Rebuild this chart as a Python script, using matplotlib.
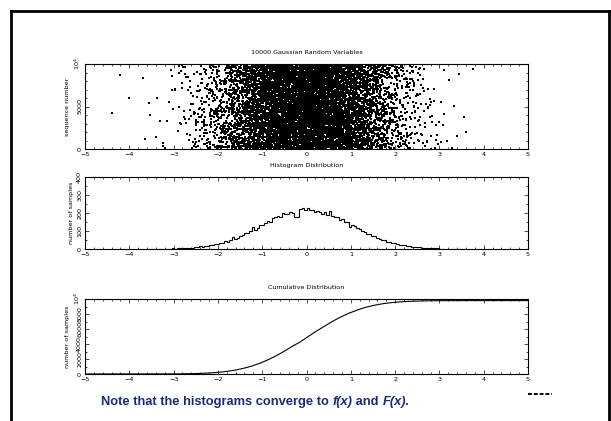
import matplotlib
matplotlib.use('Agg')
import matplotlib.pyplot as plt
from matplotlib.lines import Line2D
from matplotlib.ticker import MultipleLocator, FixedLocator
import numpy as np

# ---- data ----
# histogram: 128 bins from -3.6 to 3.6
hist_lo, hist_hi = -3.6, 3.6
hist_counts = [
    0, 1, 0, 1, 1, 0, 2, 1, 2, 1, 3, 2, 4, 3, 5, 6,
    5, 8, 7, 11, 10, 14, 13, 18, 17, 23, 21, 29, 28, 36, 33, 44,
    40, 52, 68, 56, 62, 75, 78, 88, 90, 98, 120, 104, 118, 136, 134, 142,
    156, 150, 172, 178, 184, 180, 200, 196, 194, 206, 198, 180, 176, 224, 230, 218,
    226, 214, 218, 206, 212, 204, 196, 208, 190, 210, 186, 178, 180, 160, 166, 150,
    148, 124, 136, 126, 116, 110, 98, 96, 84, 82, 72, 70, 60, 58, 50, 48,
    40, 39, 32, 31, 26, 25, 20, 20, 16, 15, 12, 12, 9, 9, 7, 6,
    5, 5, 4, 3, 3, 2, 2, 2, 1, 1, 1, 1, 0, 1, 0, 0,
]
# stray far-tail points visible in the scatter panel
tail_x = [-4.4, -4.2, -4.0, -3.7, -3.65, -3.55, -3.3, 3.75, 3.6, 3.55, 3.4]
tail_seq = [4200, 8700, 6000, 8400, 1200, 5400, 3300, 9400, 2000, 3800, 1500]

titles = ['10000 Gaussian Random Variables', 'Histogram Distribution', 'Cumulative Distribution']
xticks = [-5, -4, -3, -2, -1, 0, 1, 2, 3, 4, 5]
xticklabels = ['\u22125', '\u22124', '\u22123', '\u22122', '\u22121', '0', '1', '2', '3', '4', '5']
seq_ticks = [0, 5000, 10000]
seq_labels = ['0', '5000', '10$^4$']
hist_ticks = [0, 100, 200, 300, 400]
cum_ticks = [0, 2000, 4000, 6000, 8000, 10000]
cum_labels = ['0', '2000', '4000', '6000', '8000', '10$^4$']


def scramble(v):
    # integer hash -> [0, 1), used only to order samples inside the run
    v = np.asarray(v, dtype=np.uint64) & np.uint64(0xffffffff)
    m = np.uint64(0x45d9f3b)
    mask = np.uint64(0xffffffff)
    v = ((v ^ (v >> np.uint64(16))) * m) & mask
    v = ((v ^ (v >> np.uint64(16))) * m) & mask
    v = v ^ (v >> np.uint64(16))
    return v.astype(np.float64) / 2.0**32


# ---- derived series ----
counts = np.array(hist_counts)
edges = np.linspace(hist_lo, hist_hi, len(counts) + 1)
width = edges[1] - edges[0]
bin_of = np.repeat(np.arange(len(counts)), counts)
n = len(bin_of)
idx = np.arange(n)
xs = edges[bin_of] + scramble(idx * 3 + 1) * width
seq = scramble(idx * 3 + 2) * 10000
cum = np.concatenate([[0], np.cumsum(counts)])

# ---- figure ----
fig = plt.figure(figsize=(6.11, 4.21), dpi=100, facecolor='white')
plt.rcParams['font.family'] = ['DejaVu Sans']

L, W = 85 / 611, 443 / 611
boxes = [
    [L, 1 - 149 / 421, W, 85 / 421],
    [L, 1 - 249 / 421, W, 72 / 421],
    [L, 1 - 374 / 421, W, 75 / 421],
]
axs = [fig.add_axes(b) for b in boxes]

fs = 4.6
for ax, t in zip(axs, titles):
    ax.set_xlim(-5, 5)
    ax.set_title(t, fontsize=fs, pad=7)
    ax.set_xticks(xticks)
    ax.set_xticklabels(xticklabels, fontsize=fs)
    ax.xaxis.set_minor_locator(MultipleLocator(0.2))
    ax.tick_params(which='both', direction='in', top=True, right=True,
                   width=0.5, pad=2)
    ax.tick_params(which='major', length=3.2)
    ax.tick_params(which='minor', length=1.6)
    for s in ax.spines.values():
        s.set_linewidth(0.8)

# panel 1: scatter
ax = axs[0]
ax.scatter(xs, seq, s=0.9, marker='s', c='black', linewidths=0, antialiased=False)
ax.scatter(tail_x, tail_seq, s=0.9, marker='s', c='black', linewidths=0, antialiased=False)
ax.set_ylim(0, 10000)
ax.yaxis.set_major_locator(FixedLocator(seq_ticks))
ax.set_yticklabels(seq_labels, fontsize=fs, rotation=90, va='center')
ax.yaxis.set_minor_locator(MultipleLocator(1000))
ax.set_ylabel('sequence number', fontsize=fs, labelpad=2)

# panel 2: histogram
ax = axs[1]
ax.stairs(counts, edges, color='black', linewidth=0.8)
ax.set_ylim(0, 400)
ax.yaxis.set_major_locator(FixedLocator(hist_ticks))
ax.set_yticklabels([str(v) for v in hist_ticks], fontsize=fs, rotation=90, va='center')
ax.yaxis.set_minor_locator(MultipleLocator(50))
ax.set_ylabel('number of samples', fontsize=fs, labelpad=2)

# panel 3: cumulative
ax = axs[2]
ax.plot(np.concatenate([[-5], edges, [5]]), np.concatenate([[0], cum, [cum[-1]]]),
        color='black', linewidth=0.8)
ax.set_ylim(0, 10000)
ax.yaxis.set_major_locator(FixedLocator(cum_ticks))
ax.set_yticklabels(cum_labels, fontsize=fs, rotation=90, va='center')
ax.yaxis.set_minor_locator(MultipleLocator(1000))
ax.set_ylabel('number of samples', fontsize=fs, labelpad=2)

# slide frame
fw, fh = 611.0, 421.0
frame = dict(color='black', linewidth=2.0, transform=fig.transFigure, solid_capstyle='projecting')
fig.add_artist(Line2D([10.5 / fw, 10.5 / fw], [0, 1 - 11 / fh], **frame))
fig.add_artist(Line2D([10.5 / fw, 609 / fw], [1 - 11 / fh, 1 - 11 / fh], **frame))
fig.add_artist(Line2D([609 / fw, 609 / fw], [1 - 11 / fh, 0], **frame))

# dashed mark at bottom right
fig.add_artist(Line2D([528 / fw, 552 / fw], [1 - 394 / fh, 1 - 394 / fh],
                      color='black', linewidth=1.4, linestyle=(0, (2, 1)),
                      transform=fig.transFigure))

# note text with italic pieces
renderer = fig.canvas.get_renderer()
pieces = [('Note that the histograms converge to ', 'normal'),
          ('f(x)', 'italic'),
          (' and ', 'normal'),
          ('F(x).', 'italic')]
x = 101 / fw
y = 1 - 405 / fh
for txt, style in pieces:
    t = fig.text(x, y, txt, fontsize=9.3, fontweight='bold', fontstyle=style,
                 color='#1b2a78', family=['Liberation Sans', 'DejaVu Sans'],
                 ha='left', va='baseline')
    bb = t.get_window_extent(renderer)
    x = bb.x1 / fig.bbox.width

fig.savefig('out.png', dpi=100, facecolor='white')
